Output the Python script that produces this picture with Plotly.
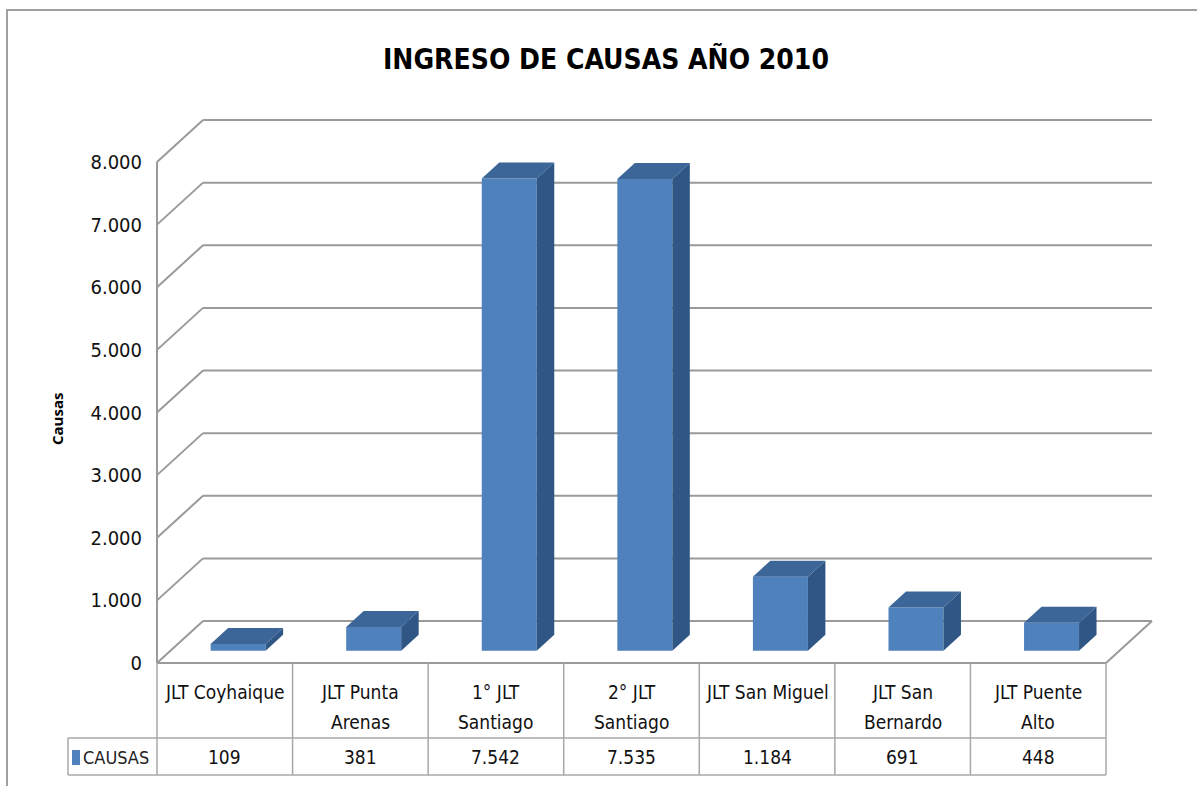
import plotly.graph_objects as go

# ---------------- data ----------------
categories = ["JLT Coyhaique", "JLT Punta Arenas", "1° JLT Santiago", "2° JLT Santiago",
              "JLT San Miguel", "JLT San Bernardo", "JLT Puente Alto"]
label_line1 = ["JLT Coyhaique", "JLT Punta", "1° JLT", "2° JLT", "JLT San Miguel", "JLT San", "JLT Puente"]
label_line2 = ["", "Arenas", "Santiago", "Santiago", "", "Bernardo", "Alto"]
values = [109, 381, 7542, 7535, 1184, 691, 448]
series_name = "CAUSAS"
y_ticks = [0, 1000, 2000, 3000, 4000, 5000, 6000, 7000, 8000]
title_text = "INGRESO DE CAUSAS AÑO 2010"
y_title = "Causas"

# ---------------- layout geometry ----------------
W, H = 1197, 786
X0PX = 157.0            # pixel of x = 0 (front-left corner)
COLPX = (1106 - 157) / 7.0
Y0PX = 663.0            # pixel of value 0 on front plane
PXPU = 501.0 / 8000.0   # pixels per value unit
DX = 46.0 / COLPX       # depth vector (x units)
DY = 42.0 / PXPU        # depth vector (value units)
BAR_D0 = 0.29           # depth of bar front face (fraction of full depth)
BAR_DD = 0.38           # bar depth
BAR_W = 55.0 / COLPX

def xd(px):
    return (px - X0PX) / COLPX

def yd(py):
    return (Y0PX - py) / PXPU

def xp(px):
    return px / W

def yp(py):
    return 1 - py / H

NARROW = "Liberation Sans Narrow, DejaVu Sans Condensed, Arial Narrow, sans-serif"
GRID = "#9a9a9a"
FRONT = "#4F81BD"
TOP = "#3C6698"
SIDE = "#2F5684"

n = len(categories)
fig = go.Figure()

# front faces of the bars
bx = [i + 0.5 + BAR_D0 * DX for i in range(n)]
fig.add_trace(go.Bar(
    x=bx, y=values, base=[BAR_D0 * DY] * n, width=BAR_W,
    marker=dict(color=FRONT, line=dict(width=0)), name=series_name,
    hovertext=categories, hoverinfo="text+y",
))

# top and side faces
tx, ty, sx, sy = [], [], [], []
for i, v in enumerate(values):
    xl = bx[i] - BAR_W / 2
    xr = bx[i] + BAR_W / 2
    b0 = BAR_D0 * DY
    ddx, ddy = BAR_DD * DX, BAR_DD * DY
    tx += [xl, xr, xr + ddx, xl + ddx, xl, None]
    ty += [b0 + v, b0 + v, b0 + v + ddy, b0 + v + ddy, b0 + v, None]
    sx += [xr, xr, xr + ddx, xr + ddx, xr, None]
    sy += [b0, b0 + v, b0 + v + ddy, b0 + ddy, b0, None]
fig.add_trace(go.Scatter(x=tx, y=ty, mode="lines", fill="toself", fillcolor=TOP,
                         line=dict(width=0, color=TOP), hoverinfo="skip"))
fig.add_trace(go.Scatter(x=sx, y=sy, mode="lines", fill="toself", fillcolor=SIDE,
                         line=dict(width=0, color=SIDE), hoverinfo="skip"))

shapes = []
def line(x0, y0, x1, y1, color=GRID, width=2, layer="below"):
    shapes.append(dict(type="line", xref="x", yref="y", x0=x0, y0=y0, x1=x1, y1=y1,
                       line=dict(color=color, width=width), layer=layer))

# walls: gridlines
for v in y_ticks:
    line(0, v, DX, v + DY)
    line(DX, v + DY, n + DX, v + DY)
line(n, 0, n + DX, DY)
line(0, 0, 0, y_ticks[-1])
line(0, 0, n, 0)

# data table
TBL_MID = yd(738)
TBL_BOT = yd(775)
LEG_X = xd(68)
TC = "#a8a8a8"
for i in range(n + 1):
    line(i, 0, i, TBL_BOT, color=TC, width=1.5, layer="above")
line(LEG_X, TBL_MID, n, TBL_MID, color=TC, width=1.5, layer="above")
line(LEG_X, TBL_BOT, n, TBL_BOT, color=TC, width=1.5, layer="above")
line(LEG_X, TBL_MID, LEG_X, TBL_BOT, color=TC, width=1.5, layer="above")

# legend key square
shapes.append(dict(type="rect", xref="paper", yref="paper", x0=xp(72), x1=xp(80), y0=yp(765), y1=yp(750),
                   fillcolor=FRONT, line=dict(width=0)))

# outer chart border
shapes.append(dict(type="path", xref="paper", yref="paper",
                   path=f"M {xp(7)},{yp(800)} L {xp(7)},{yp(10)} L {xp(1210)},{yp(10)}",
                   line=dict(color="#a0a0a0", width=2)))

TXT = dict(family=NARROW, size=19, color="#111")
annotations = []
for i in range(n):
    annotations.append(dict(x=i + 0.5, y=yd(692), xref="x", yref="y", text=label_line1[i],
                            xanchor="center", yanchor="middle", showarrow=False, font=TXT))
    if label_line2[i]:
        annotations.append(dict(x=i + 0.5, y=yd(722), xref="x", yref="y", text=label_line2[i],
                                xanchor="center", yanchor="middle", showarrow=False, font=TXT))
    annotations.append(dict(x=i + 0.5, y=yd(757), xref="x", yref="y",
                            text=f"{values[i]:,}".replace(",", "."),
                            xanchor="center", yanchor="middle", showarrow=False, font=TXT))
annotations.append(dict(x=xp(81), y=yp(757), xref="paper", yref="paper", xanchor="left", yanchor="middle",
                        text=series_name, showarrow=False,
                        font=dict(family=NARROW, size=18, color="#222")))
annotations.append(dict(x=xp(606), y=yp(59), xref="paper", yref="paper", text=f"<b>{title_text}</b>",
                        xanchor="center", yanchor="middle",
                        showarrow=False, font=dict(family=NARROW, size=28, color="#000")))
annotations.append(dict(x=xp(57), y=yp(419), xref="paper", yref="paper", text=f"<b>{y_title}</b>",
                        xanchor="center", yanchor="middle",
                        textangle=-90, showarrow=False,
                        font=dict(family="Open Sans, DejaVu Sans, sans-serif", size=15, color="#000")))

fig.update_layout(
    width=W, height=H, margin=dict(l=0, r=0, t=0, b=0),
    template="none", paper_bgcolor="white", plot_bgcolor="white",
    showlegend=False, separators=",.",
    xaxis=dict(range=[xd(0), xd(W)], visible=False, fixedrange=True),
    yaxis=dict(range=[yd(H), yd(0)], tickvals=y_ticks, tickformat=",d",
               anchor="free", position=xp(X0PX), side="left",
               showgrid=False, zeroline=False, showline=False, ticks="",
               ticklabelstandoff=15, automargin=False,
               tickfont=dict(family=NARROW, size=20, color="#111"), fixedrange=True),
    shapes=shapes, annotations=annotations,
)

fig.write_html("out.html", config={"displayModeBar": False},
               post_script="document.body.style.margin='0';document.body.style.overflow='hidden';")
